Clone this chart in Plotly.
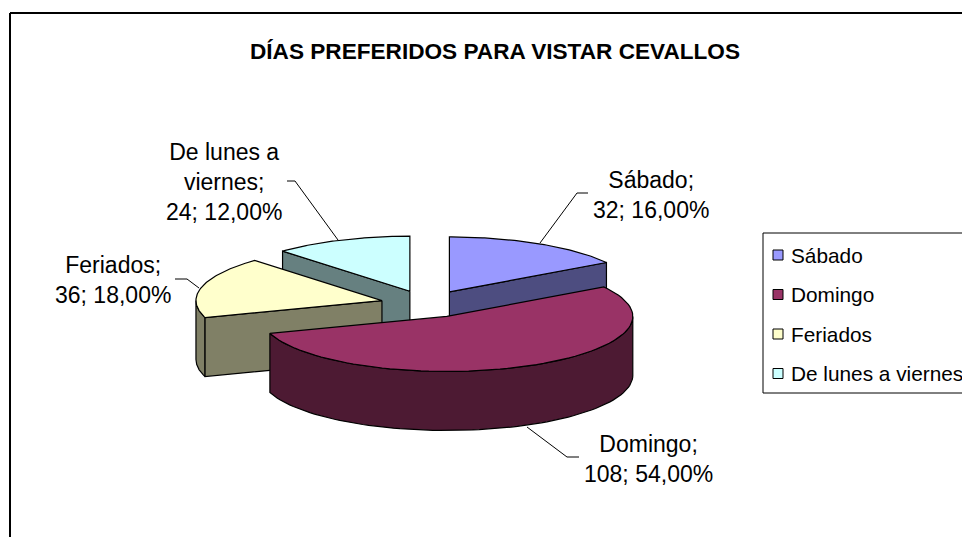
import numpy as np
import plotly.graph_objects as go

# ---------------- data ----------------
CATEGORIES = ["Sábado", "Domingo", "Feriados", "De lunes a viernes"]
VALUES = [32, 108, 36, 24]
LABEL_NAMES = ["Sábado", "Domingo", "Feriados", "De lunes a<br>viernes"]
TITLE = "DÍAS PREFERIDOS PARA VISTAR CEVALLOS"

# ---------------- style ----------------
TOP_COLORS = ["#9999FF", "#993366", "#FFFFCC", "#CCFFFF"]
SIDE_COLORS = ["#4D4D80", "#4D1A33", "#808066", "#668080"]
FONT = "Liberation Sans, Arial, sans-serif"

W, H_PX = 962, 537
CX, CY = 427.0, 304.0      # pie centre (pixel space)
RA, RB = 186.0, 55.0       # ellipse radii
DEPTH = 59.0               # pie thickness
EXPLODE = 0.25             # explosion as fraction of radius
N = 80

total = float(sum(VALUES))
fracs = [v / total for v in VALUES]
starts = np.concatenate([[0.0], np.cumsum(fracs)[:-1]]) * 360.0
ends = np.cumsum(fracs) * 360.0


def apex_of(i):
    mid = np.radians((starts[i] + ends[i]) / 2.0)
    return CX + EXPLODE * RA * np.sin(mid), CY - EXPLODE * RB * np.cos(mid)


def arc(ax, ay, t0, t1, dy=0.0):
    th = np.radians(np.linspace(t0, t1, N))
    return list(ax + RA * np.sin(th)), list(ay - RB * np.cos(th) + dy)


fig = go.Figure()


def poly(xs, ys, color, name, hover):
    fig.add_trace(go.Scatter(
        x=xs, y=ys, mode="lines", fill="toself", fillcolor=color,
        line=dict(color="black", width=1.2), name=name, showlegend=False,
        hoverinfo="text", text=hover, hoveron="fills"))


draw_order = [0, 3, 2, 1]
for i in draw_order:
    ax, ay = apex_of(i)
    s, e = starts[i], ends[i]
    pct = fracs[i] * 100
    hover = f"{CATEGORIES[i]}; {VALUES[i]}; {pct:.2f}%".replace(".", ",")
    # outer wall (front half only: 90..270 deg)
    w0, w1 = max(s, 90.0), min(e, 270.0)
    if w1 > w0:
        tx, ty = arc(ax, ay, w0, w1)
        bx, by = arc(ax, ay, w1, w0, DEPTH)
        poly(tx + bx + [tx[0]], ty + by + [ty[0]], SIDE_COLORS[i], CATEGORIES[i], hover)
    # radial cut faces facing the viewer
    for phi, sign in ((s, -1.0), (e, 1.0)):
        r = np.radians(phi)
        nx, ny = sign * np.cos(r), -sign * np.sin(r)
        if ny < -1e-6:
            ex, ey = ax + RA * np.sin(r), ay - RB * np.cos(r)
            poly([ax, ex, ex, ax, ax], [ay, ey, ey + DEPTH, ay + DEPTH, ay],
                 SIDE_COLORS[i], CATEGORIES[i], hover)
    # top face
    tx, ty = arc(ax, ay, s, e)
    poly([ax] + tx + [ax], [ay] + ty + [ay], TOP_COLORS[i], CATEGORIES[i], hover)

# ---------------- labels ----------------
LABEL_POS = [(651, 195), (648, 459), (113, 280), (224, 182)]
LEADERS = [
    "M 588 193 L 577 193 L 540 243",
    "M 527 427 L 567 457 L 579 457",
    "M 175 279 L 187 279 L 199 288",
    "M 287 181 L 295 181 L 338 240",
]
annotations = []
shapes = []
for i in range(len(VALUES)):
    pct = fracs[i] * 100
    txt = f"{LABEL_NAMES[i]};<br>{VALUES[i]}; {pct:.2f}%".replace(".", ",")
    annotations.append(dict(
        x=LABEL_POS[i][0], y=LABEL_POS[i][1], xref="x", yref="y", text=txt,
        showarrow=False, xanchor="center", yanchor="middle", align="center",
        font=dict(family=FONT, size=23, color="black")))
    shapes.append(dict(type="path", path=LEADERS[i], xref="x", yref="y",
                       line=dict(color="black", width=1)))

# title
annotations.append(dict(
    x=495, y=51, xref="x", yref="y", text=f"<b>{TITLE}</b>", showarrow=False,
    xanchor="center", yanchor="middle",
    font=dict(family=FONT, size=22.6, color="black")))

# legend (box, swatches, text)
LEG_X, LEG_Y0, LEG_Y1 = 763, 233, 393
ROW0, ROW_STEP = 255.0, 39.5
shapes.append(dict(type="rect", xref="x", yref="y", x0=LEG_X, y0=LEG_Y0,
                   x1=975, y1=LEG_Y1, line=dict(color="black", width=1),
                   fillcolor="rgba(0,0,0,0)"))
for i, name in enumerate(CATEGORIES):
    yc = ROW0 + ROW_STEP * i
    shapes.append(dict(type="rect", xref="x", yref="y", x0=773, x1=783,
                       y0=yc - 5, y1=yc + 5, fillcolor=TOP_COLORS[i],
                       line=dict(color="black", width=1)))
    annotations.append(dict(
        x=789, y=yc, xref="x", yref="y", text=name, showarrow=False,
        xanchor="left", yanchor="middle",
        font=dict(family=FONT, size=20.8, color="black")))

# chart frame (left and top edges visible)
shapes.append(dict(type="line", xref="x", yref="y", x0=10, y0=13, x1=10, y1=560,
                   line=dict(color="black", width=2)))
shapes.append(dict(type="line", xref="x", yref="y", x0=10, y0=13, x1=980, y1=13,
                   line=dict(color="black", width=2)))

fig.update_layout(
    width=W, height=H_PX,
    margin=dict(l=0, r=0, t=0, b=0, pad=0, autoexpand=False),
    paper_bgcolor="white", plot_bgcolor="white",
    xaxis=dict(range=[0, W], visible=False, fixedrange=True),
    yaxis=dict(range=[H_PX, 0], visible=False, fixedrange=True),
    showlegend=False,
    annotations=annotations, shapes=shapes,
    font=dict(family=FONT),
)

fig.write_html(
    "out.html",
    config={"displayModeBar": False},
    post_script="document.body.style.margin='0';document.body.style.padding='0';"
                "document.body.style.overflow='hidden';",
)
